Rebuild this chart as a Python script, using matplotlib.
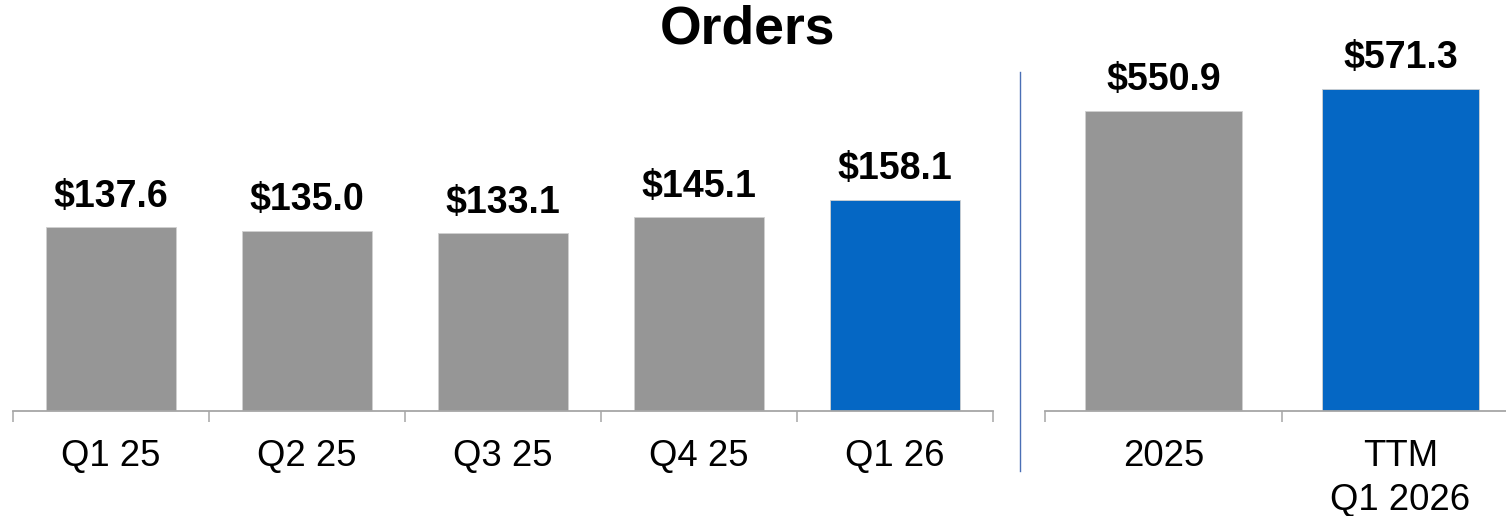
import matplotlib.pyplot as plt
from matplotlib.lines import Line2D

quarters = ['Q1 25', 'Q2 25', 'Q3 25', 'Q4 25', 'Q1 26']
quarter_orders = [137.6, 135.0, 133.1, 145.1, 158.1]
years = ['2025', 'TTM\nQ1 2026']
year_orders = [550.9, 571.3]

GRAY = '#969696'
BLUE = '#0567C4'
AXIS = '#A6A6A6'

plt.rcParams['font.family'] = ['Liberation Sans', 'DejaVu Sans']

W, H = 1506, 516


def panel(ax, labels, values, ylim):
    n = len(labels)
    x = list(range(n))
    colors = [GRAY] * (n - 1) + [BLUE]
    bars = ax.bar(x, values, width=0.665, color=colors, edgecolor='#d0d0d0', linewidth=0.6)
    for b, v in zip(bars, values):
        ax.annotate('${:.1f}'.format(v), (b.get_x() + b.get_width() / 2, v),
                    xytext=(0, 15), textcoords='offset points',
                    ha='center', va='baseline', fontsize=27, fontweight='bold')
    ax.set_xlim(-0.5, n - 0.5)
    ax.set_ylim(*ylim)
    for s in ['top', 'left', 'right']:
        ax.spines[s].set_visible(False)
    ax.spines['bottom'].set_color(AXIS)
    ax.spines['bottom'].set_linewidth(1.3)
    ax.set_yticks([])
    # boundary ticks
    ax.set_xticks([i - 0.5 for i in range(n + 1)])
    ax.set_xticklabels([])
    ax.tick_params(axis='x', which='major', length=8, width=1.1, color=AXIS)
    # category labels on minor ticks
    ax.set_xticks(x, minor=True)
    ax.set_xticklabels(labels, minor=True, fontsize=26.3, linespacing=1.3)
    ax.tick_params(axis='x', which='minor', length=0, pad=20.5)


fig = plt.figure(figsize=(W / 100, H / 100), dpi=100)

base = 411
top = 60
ax1 = fig.add_axes([13 / W, (H - base) / H, 980 / W, (base - top) / H])
panel(ax1, quarters, quarter_orders, (0, (base - top) / 1.3346))

ax2 = fig.add_axes([1045 / W, (H - base) / H, 474 / W, (base - top) / H])
panel(ax2, years, year_orders, (264.6, 264.6 + (base - top) / 1.049))

fig.add_artist(Line2D([1020 / W, 1020 / W], [(H - 72) / H, (H - 471) / H],
                      transform=fig.transFigure, color='#4A6FB5', linewidth=1.0))

fig.text(748 / W, (H - 30) / H, 'Orders', ha='center', va='center',
         fontsize=38.5, fontweight='bold')

fig.savefig('out.png', dpi=100)
